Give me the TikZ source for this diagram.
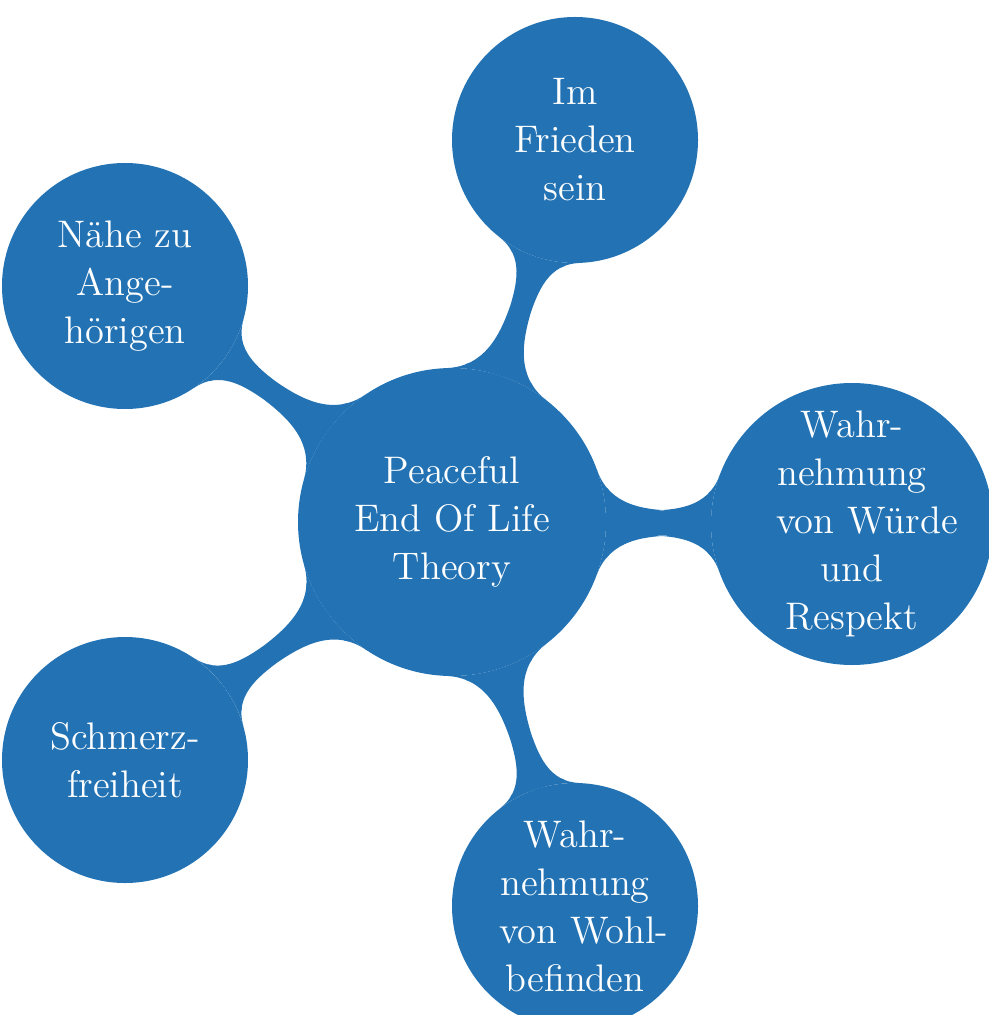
\documentclass[tikz,border=0pt]{standalone}
\usetikzlibrary{mindmap}
\definecolor{bubble}{RGB}{35,115,180}
\begin{document}
\begin{tikzpicture}[x=0.375pt, y=-0.375pt, mindmap, concept color=bubble,
  bubble/.style={concept, circle, fill=bubble, draw=none, text=white,
    inner sep=0pt, font=\Large, text width=57pt, align=center,
    minimum size=92.25pt},
  rootbubble/.style={bubble, text width=78pt, minimum size=115.5pt},
  bigbubble/.style={bubble, minimum size=105.75pt},
  bar/.style={circle connection bar switch color=from (bubble) to (bubble)}]
\useasboundingbox (0,0) rectangle (988,1015);

% central concept and its five satellites
\node[rootbubble] (root) at (452,522) {Peaceful\\End Of Life\\Theory};
\node[bubble] (peace) at (575,140) {Im\\Frieden\\sein};
\node[bigbubble] (dignity) at (852,524)
  {\mbox{Wahr-}\\nehmung\\\mbox{von Würde}\\und\\Respekt};
\node[bubble] (wellbeing) at (575,906)
  {\mbox{Wahr-}\\nehmung\\\mbox{von Wohl-}\\befinden};
\node[bubble] (pain) at (125,760) {\mbox{Schmerz-}\\freiheit};
\node[bubble] (family) at (125,286) {Nähe zu\\\mbox{Ange-}\\hörigen};

% connection bars from the centre outwards
\path (root) to[bar] (peace);
\path (root) to[bar] (dignity);
\path (root) to[bar] (wellbeing);
\path (root) to[bar] (pain);
\path (root) to[bar] (family);
\end{tikzpicture}
\end{document}
